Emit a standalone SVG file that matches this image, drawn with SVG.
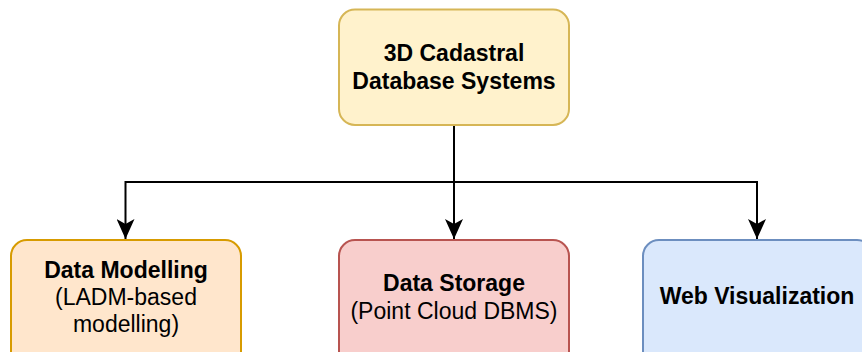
<svg xmlns="http://www.w3.org/2000/svg" width="862" height="352" viewBox="0 0 862 352">
<defs>
<style>
.box{stroke-width:2}
.t{font-family:"Liberation Sans",Arial,sans-serif;font-size:23px;text-anchor:middle;fill:#000}
.b{font-weight:bold}
.c{fill:none;stroke:#000;stroke-width:2}
</style>
<marker id="ah" markerWidth="20" markerHeight="18" refX="20" refY="9" orient="auto" markerUnits="userSpaceOnUse" viewBox="0 0 20 18">
<path d="M0,0 L20,9 L0,18 L5,9 Z" fill="#000"/>
</marker>
</defs>
<rect width="862" height="352" fill="#fff"/>
<g id="connectors">
<path class="c" d="M454,125 V182 H125.5 V239" marker-end="url(#ah)"/>
<path class="c" d="M454,125 V239" marker-end="url(#ah)"/>
<path class="c" d="M454,182 H757 V239" marker-end="url(#ah)"/>
</g>
<g id="root">
<rect class="box" x="339" y="9.5" width="230" height="115.5" rx="16" fill="#fff2cc" stroke="#d6b656"/>
<text class="t b" x="454" y="61">3D Cadastral</text>
<text class="t b" x="454" y="89">Database Systems</text>
</g>
<g id="modelling">
<rect class="box" x="11" y="240" width="230" height="130" rx="16" fill="#ffe6cc" stroke="#d79b00"/>
<text class="t b" x="126" y="278">Data Modelling</text>
<text class="t" x="126" y="305">(LADM-based</text>
<text class="t" x="126" y="332">modelling)</text>
</g>
<g id="storage">
<rect class="box" x="339" y="240" width="230" height="130" rx="16" fill="#f8cecc" stroke="#b85450"/>
<text class="t b" x="454" y="291">Data Storage</text>
<text class="t" x="454" y="319">(Point Cloud DBMS)</text>
</g>
<g id="web">
<rect class="box" x="643" y="240" width="230" height="130" rx="16" fill="#dae8fc" stroke="#6c8ebf"/>
<text class="t b" x="757" y="304">Web Visualization</text>
</g>
</svg>
